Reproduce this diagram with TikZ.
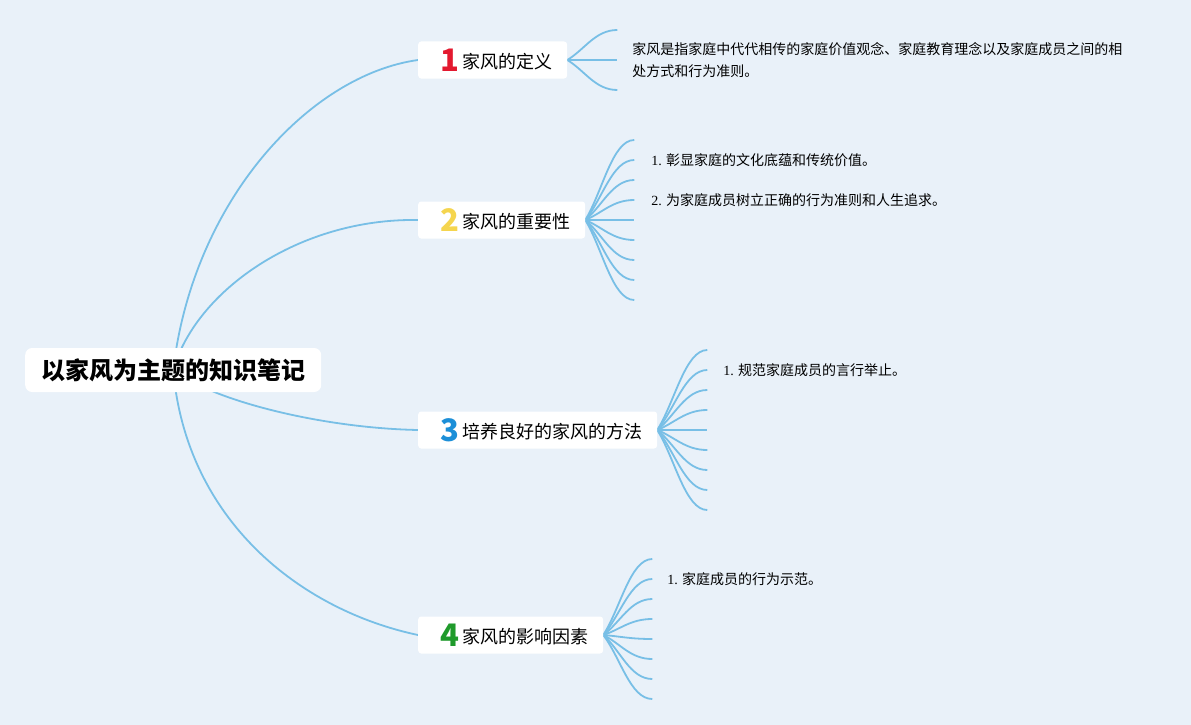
\documentclass[tikz,border=0pt]{standalone}
\usepackage{fontspec}
\setmainfont{Noto Sans CJK SC}
\newfontfamily\serif{Liberation Serif}
\usetikzlibrary{calc,positioning}
\definecolor{bgblue}{HTML}{E9F1F9}
\definecolor{linkblue}{HTML}{78BFE6}
\definecolor{numred}{HTML}{E3192F}
\definecolor{numyellow}{HTML}{F5D54E}
\definecolor{numblue}{HTML}{1C8FD8}
\definecolor{numgreen}{HTML}{1F9A2B}
\pgfdeclarelayer{bg}
\pgfdeclarelayer{edges}
\pgfsetlayers{bg,edges,main}
\newcommand{\topicnum}[2]{\hspace*{7pt}\raisebox{-3pt}{\fontsize{31}{31}\selectfont\bfseries\color{#1}#2}\hspace{3pt}}

\begin{document}
\begin{tikzpicture}[
 x=1pt,y=-1pt,
 root/.style={fill=white,rounded corners=7pt,inner xsep=16pt,inner ysep=2pt,minimum height=44pt,anchor=west,font=\fontsize{24}{24}\selectfont\bfseries},
 topic/.style={fill=white,rounded corners=3pt,inner xsep=15pt,inner ysep=2pt,minimum height=37pt,anchor=west,font=\fontsize{18}{18}\selectfont},
 leaf/.style={anchor=west,inner sep=0pt,align=left,font=\fontsize{14}{20}\selectfont},
 link/.style={draw=linkblue,line width=1.8pt}
]
\useasboundingbox (0,0) rectangle (1191,725);
\begin{pgfonlayer}{bg}
\fill[bgblue] (0,0) rectangle (1191,725);
\end{pgfonlayer}

% root and main topics
\node (root) [root] at (25,370) {以家风为主题的知识笔记};
\node (t1) [topic] at (418,60) {\topicnum{numred}{1}家风的定义};
\node (t2) [topic] at (418,220) {\topicnum{numyellow}{2}家风的重要性};
\node (t3) [topic] at (418,430) {\topicnum{numblue}{3}培养良好的家风的方法};
\node (t4) [topic] at (418,635) {\topicnum{numgreen}{4}家风的影响因素};

% fan ends
\foreach \i in {1,2,3} \coordinate (e1-\i) at ($(t1.east)+(50,{30*\i-60})$);
\foreach \i in {1,...,9} \coordinate (e2-\i) at ($(t2.east)+(49,{20*\i-100})$);
\foreach \i in {1,...,9} \coordinate (e3-\i) at ($(t3.east)+(50,{20*\i-100})$);
\foreach \i in {1,...,8} \coordinate (e4-\i) at ($(t4.east)+(49,{20*\i-96})$);

% texts
\node (n1) [leaf,font=\fontsize{14}{22}\selectfont] at ($(e1-2)+(15,0)$) {家风是指家庭中代代相传的家庭价值观念、家庭教育理念以及家庭成员之间的相\\处方式和行为准则。};
\node (n2a) [leaf] at ($(e2-2)+(17,0)$) {{\serif 1.} 彰显家庭的文化底蕴和传统价值。};
\node (n2b) [leaf] at ($(e2-4)+(17,0)$) {{\serif 2.} 为家庭成员树立正确的行为准则和人生追求。};
\node (n3a) [leaf] at ($(e3-2)+(16,0)$) {{\serif 1.} 规范家庭成员的言行举止。};
\node (n4a) [leaf] at ($(e4-2)+(15,0)$) {{\serif 1.} 家庭成员的行为示范。};

\begin{pgfonlayer}{edges}
\draw[link] (root.center) .. controls +(20,-170) and +(-108,15) .. (t1.west);
\draw[link] (root.center) .. controls +(23,-80) and +(-118,-2) .. (t2.west);
\draw[link] (root.center) .. controls +(38,30) and +(-98,-2) .. (t3.west);
\draw[link] (root.center) .. controls +(13,150) and +(-118,-25) .. (t4.west);
\foreach \i in {1,2,3}
  \draw[link] (t1.east) .. controls ($(t1.east)!.35!(e1-\i)$) and ($(e1-\i)+(-22,0)$) .. (e1-\i);
\foreach \i in {1,...,9}
  \draw[link] (t2.east) .. controls ($(t2.east)!.35!(e2-\i)$) and ($(e2-\i)+(-22,0)$) .. (e2-\i);
\foreach \i in {1,...,9}
  \draw[link] (t3.east) .. controls ($(t3.east)!.35!(e3-\i)$) and ($(e3-\i)+(-22,0)$) .. (e3-\i);
\foreach \i in {1,...,8}
  \draw[link] (t4.east) .. controls ($(t4.east)!.35!(e4-\i)$) and ($(e4-\i)+(-22,0)$) .. (e4-\i);
\end{pgfonlayer}
\end{tikzpicture}
\end{document}
